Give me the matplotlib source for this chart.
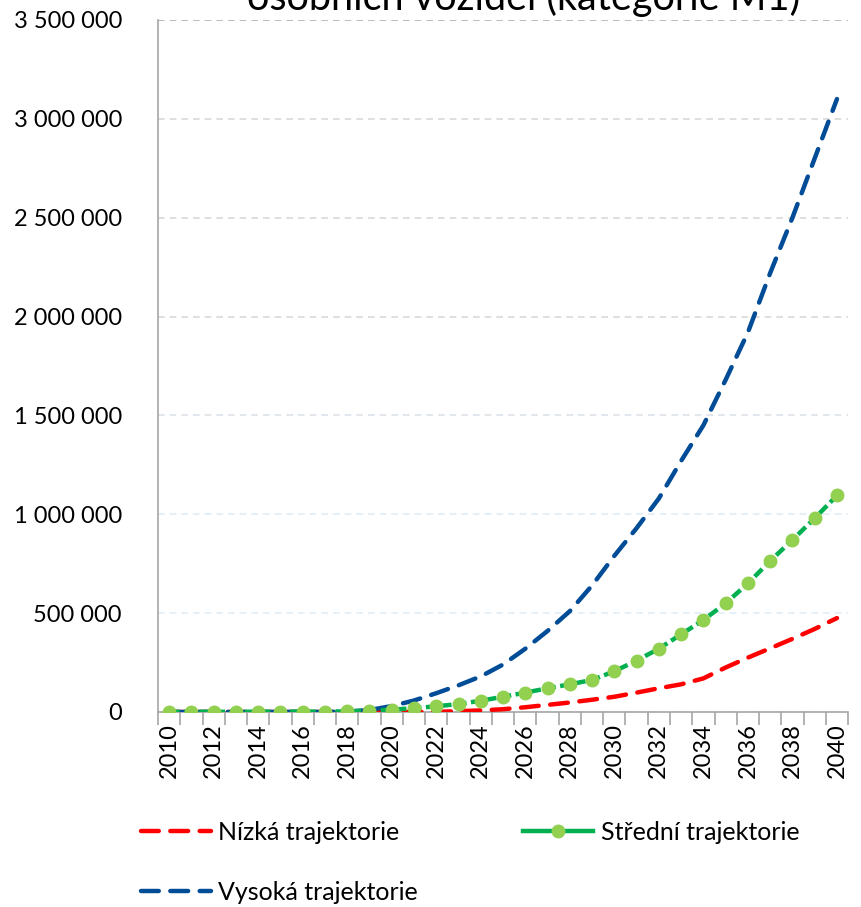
import numpy as np
import matplotlib
matplotlib.use("Agg")
import matplotlib.pyplot as plt
from matplotlib.ticker import FuncFormatter, MultipleLocator
from matplotlib.lines import Line2D

plt.rcParams['font.family'] = ['Lato', 'DejaVu Sans']

years = list(range(2010, 2041))
low = [0, 0, 0, 0, 0, 0, 0, 0, 0, 0, 0, 0, 1000, 4000, 8000, 14000, 24000, 36000,
       48000, 62000, 77000, 98000, 120000, 140000, 170000, 225000, 275000, 322000,
       370000, 420000, 475000]
mid = [1000, 1000, 1000, 1000, 1500, 1500, 2000, 2500, 3000, 7000, 12000, 19000,
       29000, 40000, 57000, 77000, 98000, 120000, 140000, 162000, 206000, 260000,
       320000, 393000, 465000, 550000, 650000, 764000, 870000, 980000, 1095000]
high = [0, 0, 0, 0, 0, 0, 0, 0, 2000, 10000, 30000, 58000, 95000, 135000, 180000,
        240000, 320000, 410000, 510000, 640000, 790000, 930000, 1080000, 1270000,
        1450000, 1680000, 1920000, 2220000, 2500000, 2800000, 3100000]
labels = ["Nízká trajektorie", "Střední trajektorie", "Vysoká trajektorie"]
title = "osobních vozidel (kategorie M1)"

fig = plt.figure(figsize=(8.61, 9.07), dpi=100)
ax = fig.add_axes([0.1835, 0.215, 0.8015, 0.763])

x = np.arange(len(years))
ax.plot(x, low, color="#FF0000", lw=3.2, dashes=(4, 2.6), dash_capstyle="round", zorder=3)
ax.plot(x, high, color="#004C97", lw=3.2, dashes=(4, 2.6), dash_capstyle="round", zorder=3)
ax.plot(x, mid, color="#00B050", lw=3.2, dashes=(2.4, 1.0), zorder=4,
        marker="o", ms=9, mfc="#92D050", mec="#92D050")

ax.set_xlim(-0.5, len(years) - 0.5)
ax.set_ylim(0, 3500000)
ax.yaxis.set_major_locator(MultipleLocator(500000))
ax.yaxis.set_major_formatter(FuncFormatter(lambda v, p: f"{int(v):,}".replace(",", " ")))
ax.set_xticks(x[::2])
ax.set_xticklabels([str(y) for y in years[::2]], rotation=90)
ax.set_xticks(np.arange(-0.5, len(years)), minor=True)
ax.tick_params(axis="x", which="major", length=0, pad=8, labelsize=17)
ax.tick_params(axis="x", which="minor", length=9, width=1.2, color="#a6a6a6")
ax.tick_params(axis="y", length=0, pad=26, labelsize=17)

ax.grid(axis="y", linestyle=(0, (4, 3)), linewidth=1.2)
grid_cols = ["#eef4fa", "#e4eff8", "#e2eef8", "#e0ecf6", "#dde3ea", "#d9d9d9", "#d9d9d9", "#d9d9d9"]
for gl, c in zip(ax.get_ygridlines(), grid_cols):
    gl.set_color(c)
ax.set_axisbelow(True)
for s in ["top", "right"]:
    ax.spines[s].set_visible(False)
for s in ["left", "bottom"]:
    ax.spines[s].set_color("#a6a6a6")
    ax.spines[s].set_linewidth(1.2)

fig.text(0.608, 1.003, title, ha="center", va="center", fontsize=28.5)

handles = [
    Line2D([], [], color="#FF0000", lw=3.2, dashes=(4, 2.6), dash_capstyle="round"),
    Line2D([], [], color="#004C97", lw=3.2, dashes=(4, 2.6), dash_capstyle="round"),
    Line2D([], [], color="#00B050", lw=3.2, marker="o", ms=9, mfc="#92D050", mec="#92D050"),
]
fig.legend(handles, [labels[0], labels[2], labels[1]], ncol=2, loc="upper left",
           bbox_to_anchor=(0.149, 0.109), frameon=False, fontsize=18,
           handlelength=2.8, handletextpad=0.3, columnspacing=4.2, labelspacing=1.5,
           borderpad=0)

fig.savefig("out.png", dpi=100)
